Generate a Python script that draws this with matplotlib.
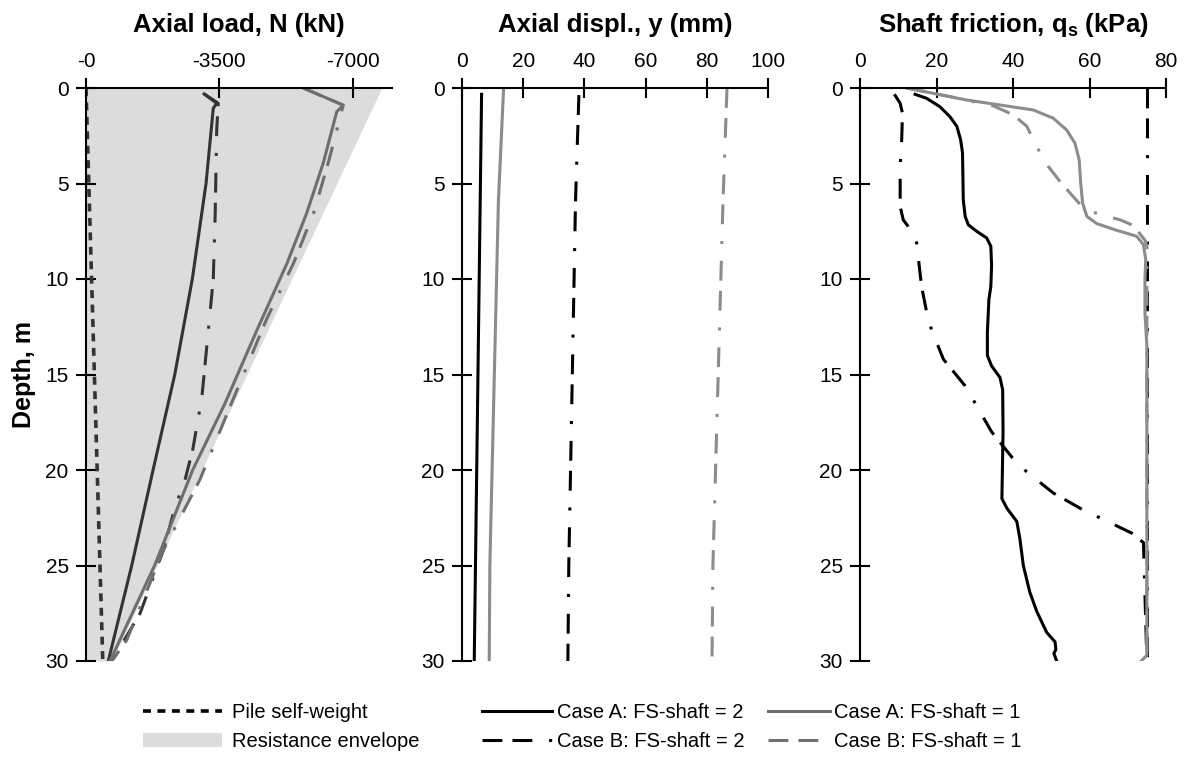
import numpy as np
import matplotlib
matplotlib.use('Agg')
import matplotlib.pyplot as plt
from matplotlib.lines import Line2D
from matplotlib.patches import Patch

plt.rcParams['font.family'] = ['Liberation Sans', 'DejaVu Sans']
plt.rcParams['mathtext.fontset'] = 'custom'
plt.rcParams['mathtext.rm'] = 'Liberation Sans'
plt.rcParams['mathtext.bf'] = 'Liberation Sans:bold'

# ---- axial load, N (kN), compression as positive ----
z_sw = [0, 30]
N_sw = [0, 440]
z_env = [0, 30]
N_env = [7760, 680]

z_NA2 = [0.31, 0.80, 1.06, 5, 10, 15, 20, 25, 30]
N_A2 = [3100, 3430, 3340, 3150, 2790, 2330, 1760, 1200, 585]
z_NB2 = [0.31, 0.80, 2.2, 6.6, 10, 12.7, 16.2, 18.95, 20.5, 22, 24.2, 27.5, 30]
N_B2 = [3100, 3470, 3430, 3390, 3340, 3210, 3040, 2800, 2600, 2330, 2030, 1420, 680]
z_NA1 = [0, 0.9, 1.24, 3.9, 6.56, 9.2, 12.7, 16.5, 20, 25, 30]
N_A1 = [5700, 6750, 6580, 6230, 5790, 5270, 4480, 3650, 2800, 1800, 630]
z_NB1 = [0, 0.9, 2.2, 3.9, 6.56, 9.2, 12.1, 16.3, 20.5, 24.2, 28.9, 30]
N_B1 = [5700, 6750, 6580, 6360, 5970, 5440, 4740, 3860, 2990, 2030, 1070, 680]

# ---- axial displacement, y (mm) ----
z_yA2 = [0.33, 30]
y_A2 = [6.4, 4.0]
z_yA1 = [0, 5.9, 25, 30]
y_A1 = [13.6, 11.9, 9.1, 8.9]
z_yB2 = [0.37, 5.9, 25, 30]
y_B2 = [38.2, 37.1, 34.9, 34.6]
z_yB1 = [0, 5.9, 25, 30]
y_B1 = [86.6, 85.3, 82.0, 81.7]

# ---- shaft friction, qs (kPa) ----
z_qA2 = [0.33, 0.54, 0.98, 1.5, 2.0, 2.7, 3.4, 5.85, 6.72, 7.16, 7.5, 7.85, 8.28, 9.3, 10.4,
         11.07, 12.8, 14.0, 14.55, 15.16, 15.8, 18.0, 21.5, 22.0, 22.7, 23.6, 25, 26.4,
         27.4, 28.5, 29.0, 29.4, 29.6, 30]
q_A2 = [14.4, 17.4, 20.9, 23.5, 25.3, 26.3, 26.8, 27.0, 27.5, 28.3, 30.5, 33.1, 34.2, 34.4, 34.2,
        33.7, 33.3, 33.3, 34.4, 36.6, 37.3, 37.4, 37.1, 38.4, 41.0, 41.8, 42.7, 44.4,
        46.2, 48.8, 51.0, 51.2, 50.7, 51.4]
z_qB2 = [0.33, 0.8, 1.32, 2.7, 4.1, 6.2, 6.9, 7.25, 8.1, 10.4, 11.6, 12.6, 14.2, 15.6, 16.5,
         18.0, 19.4, 20.1, 21.2, 22.1, 22.5, 23.3, 23.8, 30]
q_B2 = [9.0, 10.5, 11.1, 10.9, 10.5, 10.5, 11.3, 12.6, 14.8, 16.1, 17.3, 18.6, 21.8, 27.5, 30.1,
        34.4, 40.0, 43.6, 50.5, 58.4, 62.7, 71.0, 74.1, 75.0]
z_qlim = [0, 30]
q_lim = [75, 75]
z_qA1 = [0, 0.63, 0.89, 1.15, 1.58, 2.19, 2.89, 3.76, 4.98, 6.02, 6.72, 7.1, 7.45, 7.76, 8.2,
         8.98, 10, 11.8, 13.5, 29.7, 30]
q_A1 = [12.2, 27.9, 36.6, 45.3, 50.5, 54.0, 56.2, 57.3, 57.7, 58.2, 59.3, 61.9, 67.1, 72.3, 74.1,
        74.7, 74.5, 74.5, 75.0, 75.0, 73.5]
z_qB1 = [0, 0.45, 0.94, 1.4, 2.0, 2.7, 3.4, 4.1, 4.9, 5.7, 6.28, 6.63, 6.9, 7.2, 8.0, 8.3, 30]
q_B1 = [12.2, 23.5, 34.9, 40.0, 43.6, 45.3, 47.1, 49.2, 52.3, 55.8, 58.4, 62.7, 68.0, 71.5, 74.6,
        75.0, 75.0]

lw = 2.2
dot = (0, (2.2, 1.8))
dashdot = (0, (6.5, 3.3, 6.5, 5.5, 1.0, 5.5))

fig = plt.figure(figsize=(11.85, 7.73), dpi=100)
W, H = 1185, 773
bottom = 1 - 661 / H
height = 573 / H
ax1 = fig.add_axes([86 / W, bottom, 306 / W, height])
ax2 = fig.add_axes([462 / W, bottom, 306 / W, height])
ax3 = fig.add_axes([860 / W, bottom, 306 / W, height])

for ax in (ax1, ax2, ax3):
    ax.set_ylim(30, 0)
    ax.set_yticks(range(0, 31, 5))
    ax.xaxis.tick_top()
    ax.spines['right'].set_visible(False)
    ax.spines['bottom'].set_visible(False)
    ax.spines['top'].set_linewidth(1.5)
    ax.spines['left'].set_linewidth(1.5)
    ax.tick_params(direction='inout', length=15, width=1.5, labelsize=15, pad=5)

dk = '#333333'
g1 = '#6e6e6e'
neg = lambda v: [-x for x in v]

# panel 1
ax1.fill_betweenx(z_env, 0, neg(N_env), color='#dcdcdc', lw=0)
ax1.plot(neg(N_sw), z_sw, color=dk, lw=2.6, ls=dot)
ax1.plot(neg(N_A2), z_NA2, color=dk, lw=lw)
ax1.plot(neg(N_B2), z_NB2, color=dk, lw=lw, ls=dashdot)
ax1.plot(neg(N_A1), z_NA1, color=g1, lw=lw)
ax1.plot(neg(N_B1), z_NB1, color=g1, lw=lw, ls=dashdot)
ax1.set_xlim(0, -8030)
ax1.set_xticks([0, -3500, -7000])
ax1.set_xticklabels(['-0', '-3500', '-7000'])
ax1.set_title('Axial load, N (kN)', fontsize=18.5, fontweight='bold', pad=14)
ax1.set_ylabel('Depth, m', fontsize=18, fontweight='bold', labelpad=7)

# panel 2
g2 = '#8c8c8c'
ax2.plot(y_A2, z_yA2, color='black', lw=lw)
ax2.plot(y_A1, z_yA1, color=g2, lw=lw)
ax2.plot(y_B2, z_yB2, color='black', lw=lw, ls=dashdot)
ax2.plot(y_B1, z_yB1, color=g2, lw=lw, ls=dashdot)
ax2.set_xlim(0, 100)
ax2.set_xticks(range(0, 101, 20))
ax2.set_title('Axial displ., y (mm)', fontsize=18.5, fontweight='bold', pad=14)

# panel 3
ax3.plot(q_lim, z_qlim, color='black', lw=lw, ls=dashdot)
ax3.plot(q_B2, z_qB2, color='black', lw=lw, ls=dashdot)
ax3.plot(q_A2, z_qA2, color='black', lw=lw)
ax3.plot(q_B1, z_qB1, color=g2, lw=lw, ls=dashdot)
ax3.plot(q_A1, z_qA1, color=g2, lw=lw)
ax3.set_xlim(0, 80)
ax3.set_xticks(range(0, 81, 20))
ax3.set_title(r'Shaft friction, $\mathbf{q_s}$ (kPa)', fontsize=18.5, fontweight='bold', pad=14)

# legend in three blocks
gl = '#707070'
blocks = [
    (143, [Line2D([], [], color='black', lw=2.6, ls=dot), Patch(color='#dcdcdc', lw=0)],
     ['Pile self-weight', 'Resistance envelope'], 3.9, 0.5),
    (482, [Line2D([], [], color='black', lw=lw), Line2D([], [], color='black', lw=lw, ls=dashdot)],
     ['Case A: FS-shaft = 2', 'Case B: FS-shaft = 2'], 3.5, 0.2),
    (768, [Line2D([], [], color=gl, lw=lw), Line2D([], [], color=gl, lw=lw, ls=dashdot)],
     ['Case A: FS-shaft = 1', 'Case B: FS-shaft = 1'], 3.1, 0.2),
]
for x0, hs, ls, hl, tp in blocks:
    fig.legend(hs, ls, loc='upper left', bbox_to_anchor=(x0 / W, 1 - 703 / H),
               frameon=False, borderpad=0, borderaxespad=0, fontsize=14.5,
               handlelength=hl, handletextpad=tp, labelspacing=0.5)

fig.savefig('out.png', dpi=100)
